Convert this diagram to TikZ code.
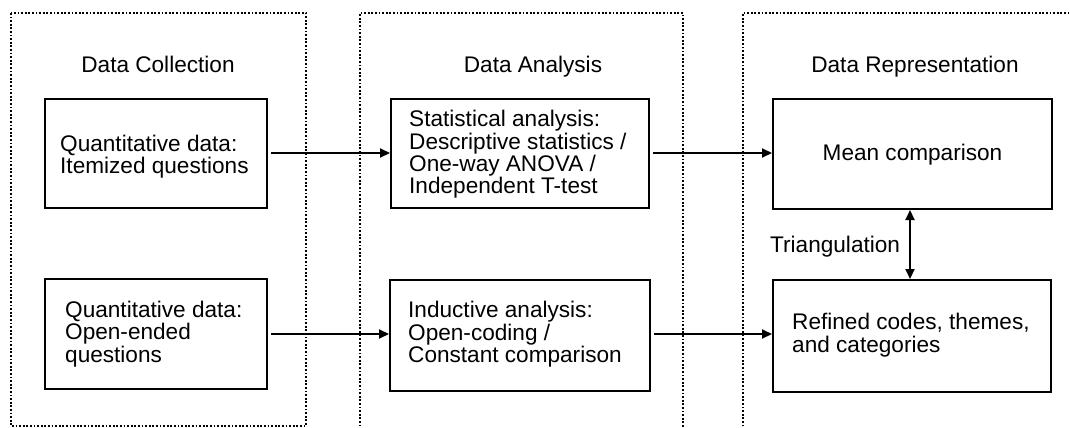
\documentclass[tikz,border=0pt]{standalone}
\usepackage{fontspec}
\setmainfont{Liberation Sans}
\usetikzlibrary{arrows.meta}
\begin{document}
\begin{tikzpicture}[x=1pt,y=-1pt,
  every node/.style={font=\fontsize{22.6}{22.4}\selectfont},
  panel/.style={line width=2.5pt, dash pattern=on 1.8pt off 1.8pt},
  box/.style={draw, line width=2pt, anchor=north west, inner sep=0pt},
  txt/.style={anchor=west, align=left, inner sep=0pt},
  arr/.style={line width=2pt, -{Triangle[length=10pt,width=9pt]}, shorten <=3pt},
  darr/.style={line width=2pt, {Triangle[length=10pt,width=9pt]}-{Triangle[length=10pt,width=9pt]}}
]
\useasboundingbox (0,0) rectangle (1070,428);
% dotted panels
\draw[panel] (11,13) rectangle (306,426);
\draw[panel] (360,430) -- (360,13) -- (683,13) -- (683,430);
\draw[panel] (743,430) -- (743,13) -- (1072,13);
% headings
\node[anchor=base] (h1) at (158,73) {Data Collection};
\node[anchor=base] (h2) at (533,73) {Data Analysis};
\node[anchor=base] (h3) at (915,73) {Data Representation};
% boxes
\node[box, minimum width=222pt, minimum height=109pt] (A) at (44,98) {};
\node[box, minimum width=258pt, minimum height=109pt] (B) at (390,98) {};
\node[box, minimum width=279pt, minimum height=110pt] (C) at (772,98) {};
\node[box, minimum width=222pt, minimum height=110pt] (A2) at (44,278) {};
\node[box, minimum width=260pt, minimum height=111pt] (B2) at (389,279) {};
\node[box, minimum width=278pt, minimum height=112pt] (C2) at (772,279) {};
% box texts
\node[txt] (At) at ([xshift=16pt,yshift=-3pt]A.west) {Quantitative data:\\Itemized questions};
\node[txt] (Bt) at ([xshift=19pt,yshift=-1pt]B.west) {Statistical analysis:\\Descriptive statistics /\\One-way ANOVA /\\Independent T-test};
\node[anchor=center, inner sep=0pt] (Ct) at ([yshift=-1pt]C.center) {Mean comparison};
\node[txt] (A2t) at ([xshift=21pt,yshift=0pt]A2.west) {Quantitative data:\\Open-ended\\questions};
\node[txt] (B2t) at ([xshift=19pt,yshift=1pt]B2.west) {Inductive analysis:\\Open-coding /\\Constant comparison};
\node[txt] (C2t) at ([xshift=20pt,yshift=1pt]C2.west) {Refined codes, themes,\\and categories};
% connectors
\coordinate (r1) at (0,153);
\coordinate (r2) at (0,334);
\draw[arr] (A.east |- r1) -- (B.west |- r1);
\draw[arr] (A2.east |- r2) -- (B2.west |- r2);
\draw[arr] (B.east |- r1) -- (C.west |- r1);
\draw[arr] (B2.east |- r2) -- (C2.west |- r2);
\coordinate (tx) at (910,0);
\draw[darr] (C.south -| tx) -- (C2.north -| tx);
\node[anchor=base west, inner sep=0pt] (tri) at (770,252) {Triangulation};
\end{tikzpicture}
\end{document}
